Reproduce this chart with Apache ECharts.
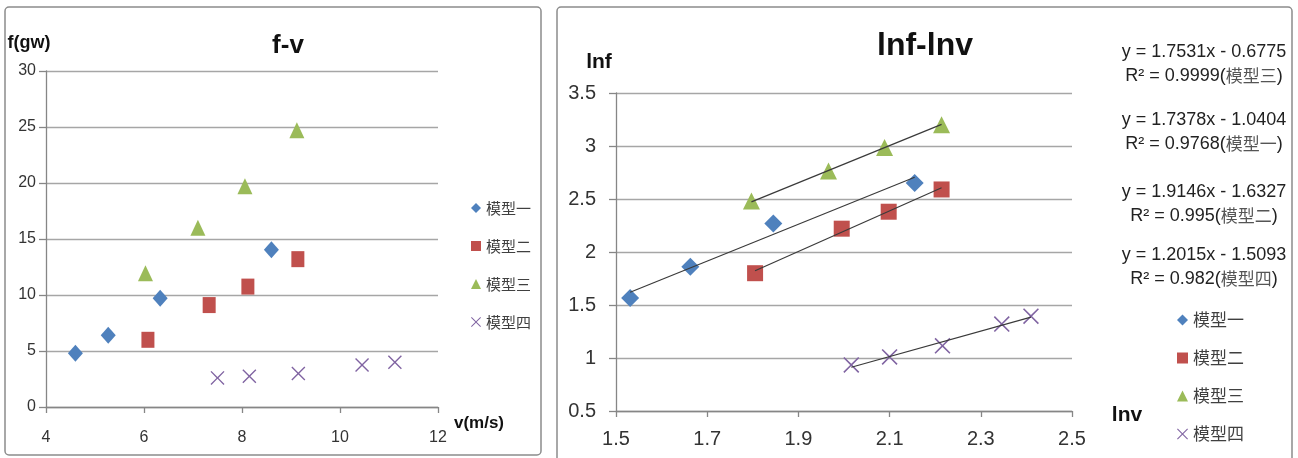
<!DOCTYPE html>
<html>
<head>
<meta charset="utf-8">
<script src="https://cdn.jsdelivr.net/npm/echarts@6/dist/echarts.min.js"></script>
<style>
  html, body { margin: 0; padding: 0; background: #fff; }
  #chart { width: 1298px; height: 458px; }
</style>
</head>
<body>
<div id="chart"></div>
<script>
// Series names shared by both panels
const seriesNames = ['模型一', '模型二', '模型三', '模型四'];

// f-v measurements: [v (m/s), f (gw)]
const fvModel1 = [[4.6, 4.8], [5.27, 6.4], [6.33, 9.7], [8.6, 14.05]];
const fvModel2 = [[6.08, 6.0], [7.33, 9.1], [8.12, 10.75], [9.14, 13.2]];
const fvModel3 = [[6.03, 11.95], [7.1, 16.0], [8.06, 19.7], [9.12, 24.7]];
const fvModel4 = [[7.5, 2.6], [8.15, 2.75], [9.15, 3.0], [10.45, 3.75], [11.12, 4.0]];

// lnf-lnv points: [lnv, lnf]
const lnModel1 = [[1.531, 1.566], [1.663, 1.86], [1.845, 2.27], [2.155, 2.65]];
const lnModel2 = [[1.805, 1.80], [1.995, 2.22], [2.098, 2.38], [2.214, 2.59]];
const lnModel3 = [[1.797, 2.48], [1.966, 2.765], [2.089, 2.985], [2.214, 3.20]];
const lnModel4 = [[2.016, 0.935], [2.10, 1.01], [2.216, 1.115], [2.346, 1.32], [2.41, 1.395]];

// Linear trend lines (lnf = slope * lnv + intercept) and their R² values
const slopes = [1.7378, 1.9146, 1.7531, 1.2015];
const intercepts = [-1.0404, -1.6327, -0.6775, -1.5093];
const rSquared = ['0.9768', '0.995', '0.9999', '0.982'];
// Order in which the equations are listed beside the lnf-lnv plot
const equationOrder = [2, 0, 1, 3];

// Axis ranges / tick steps
const fvX = { min: 4, max: 12, step: 2 };
const fvY = { min: 0, max: 30, step: 5 };
const lnX = { min: 1.5, max: 2.5, step: 0.2 };
const lnY = { min: 0.5, max: 3.5, step: 0.5 };

const colors = ['#4F81BD', '#C0504D', '#9BBB59', '#8064A2'];
const FONT = '"Liberation Sans", Arial, sans-serif';
const CJK = '"Noto Sans CJK SC", sans-serif';
const crossPath = 'path://M0,0.7L0.7,0L5,4.3L9.3,0L10,0.7L5.7,5L10,9.3L9.3,10L5,5.7L0.7,10L0,9.3L4.3,5Z';
const symbols = ['diamond', 'rect', 'triangle', crossPath];
const fvSizes = [[15, 17], [13, 16], [15, 16], [14, 14]];
const lnSizes = [[18, 18], [16, 16], [17, 17], [16, 16]];

const fvData = [fvModel1, fvModel2, fvModel3, fvModel4];
const lnData = [lnModel1, lnModel2, lnModel3, lnModel4];

function trendEnds(i) {
  const xs = lnData[i].map(p => p[0]);
  const x0 = Math.min(...xs), x1 = Math.max(...xs);
  return [[x0, slopes[i] * x0 + intercepts[i]], [x1, slopes[i] * x1 + intercepts[i]]];
}

function valueAxis(gridIndex, r, labelSize, margin, isX) {
  return {
    type: 'value', gridIndex: gridIndex,
    min: r.min, max: r.max, interval: r.step,
    axisLine: { show: true, onZero: false, lineStyle: { color: '#868686', width: 1.3 } },
    axisTick: { show: true, inside: false, length: isX ? 6 : 7, lineStyle: { color: '#868686', width: 1.3 } },
    splitLine: { show: !isX, lineStyle: { color: '#a6a6a6', width: 1.3 } },
    axisLabel: {
      margin: margin, color: '#333', fontSize: labelSize, fontFamily: FONT,
      formatter: v => String(+v.toFixed(1))
    }
  };
}

const series = [];
seriesNames.forEach((name, i) => {
  series.push({
    name: name, type: 'scatter', xAxisIndex: 0, yAxisIndex: 0,
    symbol: symbols[i], symbolSize: fvSizes[i],
    itemStyle: { color: colors[i], opacity: 1 },
    data: fvData[i], z: 2
  });
});
seriesNames.forEach((name, i) => {
  series.push({
    name: name, type: 'scatter', xAxisIndex: 1, yAxisIndex: 1,
    symbol: symbols[i], symbolSize: lnSizes[i],
    itemStyle: { color: colors[i], opacity: 1 },
    data: lnData[i], z: 2
  });
});
seriesNames.forEach((name, i) => {
  series.push({
    name: 'trend-' + name, type: 'line', xAxisIndex: 1, yAxisIndex: 1,
    showSymbol: false, silent: true, z: 3,
    lineStyle: { color: '#3a3a3a', width: 1.2 },
    data: trendEnds(i)
  });
});

function txt(text, x, y, font, opts) {
  return {
    type: 'text', x: x, y: y, silent: true,
    style: Object.assign({
      text: text, font: font, fill: '#111',
      textAlign: 'center', textVerticalAlign: 'middle',
      align: 'center', verticalAlign: 'middle'
    }, opts || {})
  };
}

const graphics = [
  { type: 'rect', shape: { x: 5, y: 7, width: 536, height: 448, r: 4 }, style: { fill: 'none', stroke: '#8c8c8c', lineWidth: 1.5 }, silent: true, z: -1 },
  { type: 'rect', shape: { x: 557, y: 7, width: 735, height: 470, r: 4 }, style: { fill: 'none', stroke: '#8c8c8c', lineWidth: 1.5 }, silent: true, z: -1 },
  txt('f-v', 288, 46, 'bold 26px ' + FONT),
  txt('f(gw)', 29, 43, 'bold 18px ' + FONT),
  txt('v(m/s)', 479, 423, 'bold 17px ' + FONT),
  txt('lnf-lnv', 925, 46, 'bold 32px ' + FONT),
  txt('lnf', 599, 62, 'bold 21px ' + FONT),
  txt('lnv', 1127, 415, 'bold 21px ' + FONT)
];

// Trend-line equations
const eqTops = [52, 120, 192, 255];
equationOrder.forEach((i, k) => {
  const b = intercepts[i];
  const line1 = 'y = ' + slopes[i].toFixed(4) + 'x ' + (b < 0 ? '- ' : '+ ') + Math.abs(b).toFixed(4);
  graphics.push(txt(line1, 1204, eqTops[k], '18px ' + FONT, { fill: '#222' }));
  graphics.push({
    type: 'text', x: 1204, y: eqTops[k] + 24, silent: true,
    style: {
      text: '{n|R² = ' + rSquared[i] + '(}{c|' + seriesNames[i] + '}{n|)}',
      textAlign: 'center', textVerticalAlign: 'middle', align: 'center', verticalAlign: 'middle',
      rich: {
        n: { fontSize: 18, fontFamily: FONT, fill: '#222', color: '#222' },
        c: { fontSize: 17, fontFamily: CJK, fill: '#555', color: '#555' }
      }
    }
  });
});

const chart = echarts.init(document.getElementById('chart'), null, { renderer: 'canvas' });
chart.setOption({
  backgroundColor: '#fff',
  animation: false,
  grid: [
    { left: 46, top: 71, width: 392, height: 336 },
    { left: 616, top: 93, width: 456, height: 318 }
  ],
  xAxis: [valueAxis(0, fvX, 16, 23, true), valueAxis(1, lnX, 20, 18, true)],
  yAxis: [valueAxis(0, fvY, 16, 10, false), valueAxis(1, lnY, 20, 20, false)],
  legend: [
    {
      data: seriesNames, orient: 'vertical', left: 466, top: 193,
      itemWidth: 10, itemHeight: 10, itemGap: 18,
      textStyle: { fontSize: 15, lineHeight: 20, color: '#404040', fontFamily: CJK }
    },
    {
      data: seriesNames, orient: 'vertical', left: 1172, top: 304,
      itemWidth: 11, itemHeight: 11, itemGap: 16,
      textStyle: { fontSize: 17, lineHeight: 22, color: '#404040', fontFamily: CJK }
    }
  ],
  graphic: graphics,
  series: series
});
</script>
</body>
</html>
